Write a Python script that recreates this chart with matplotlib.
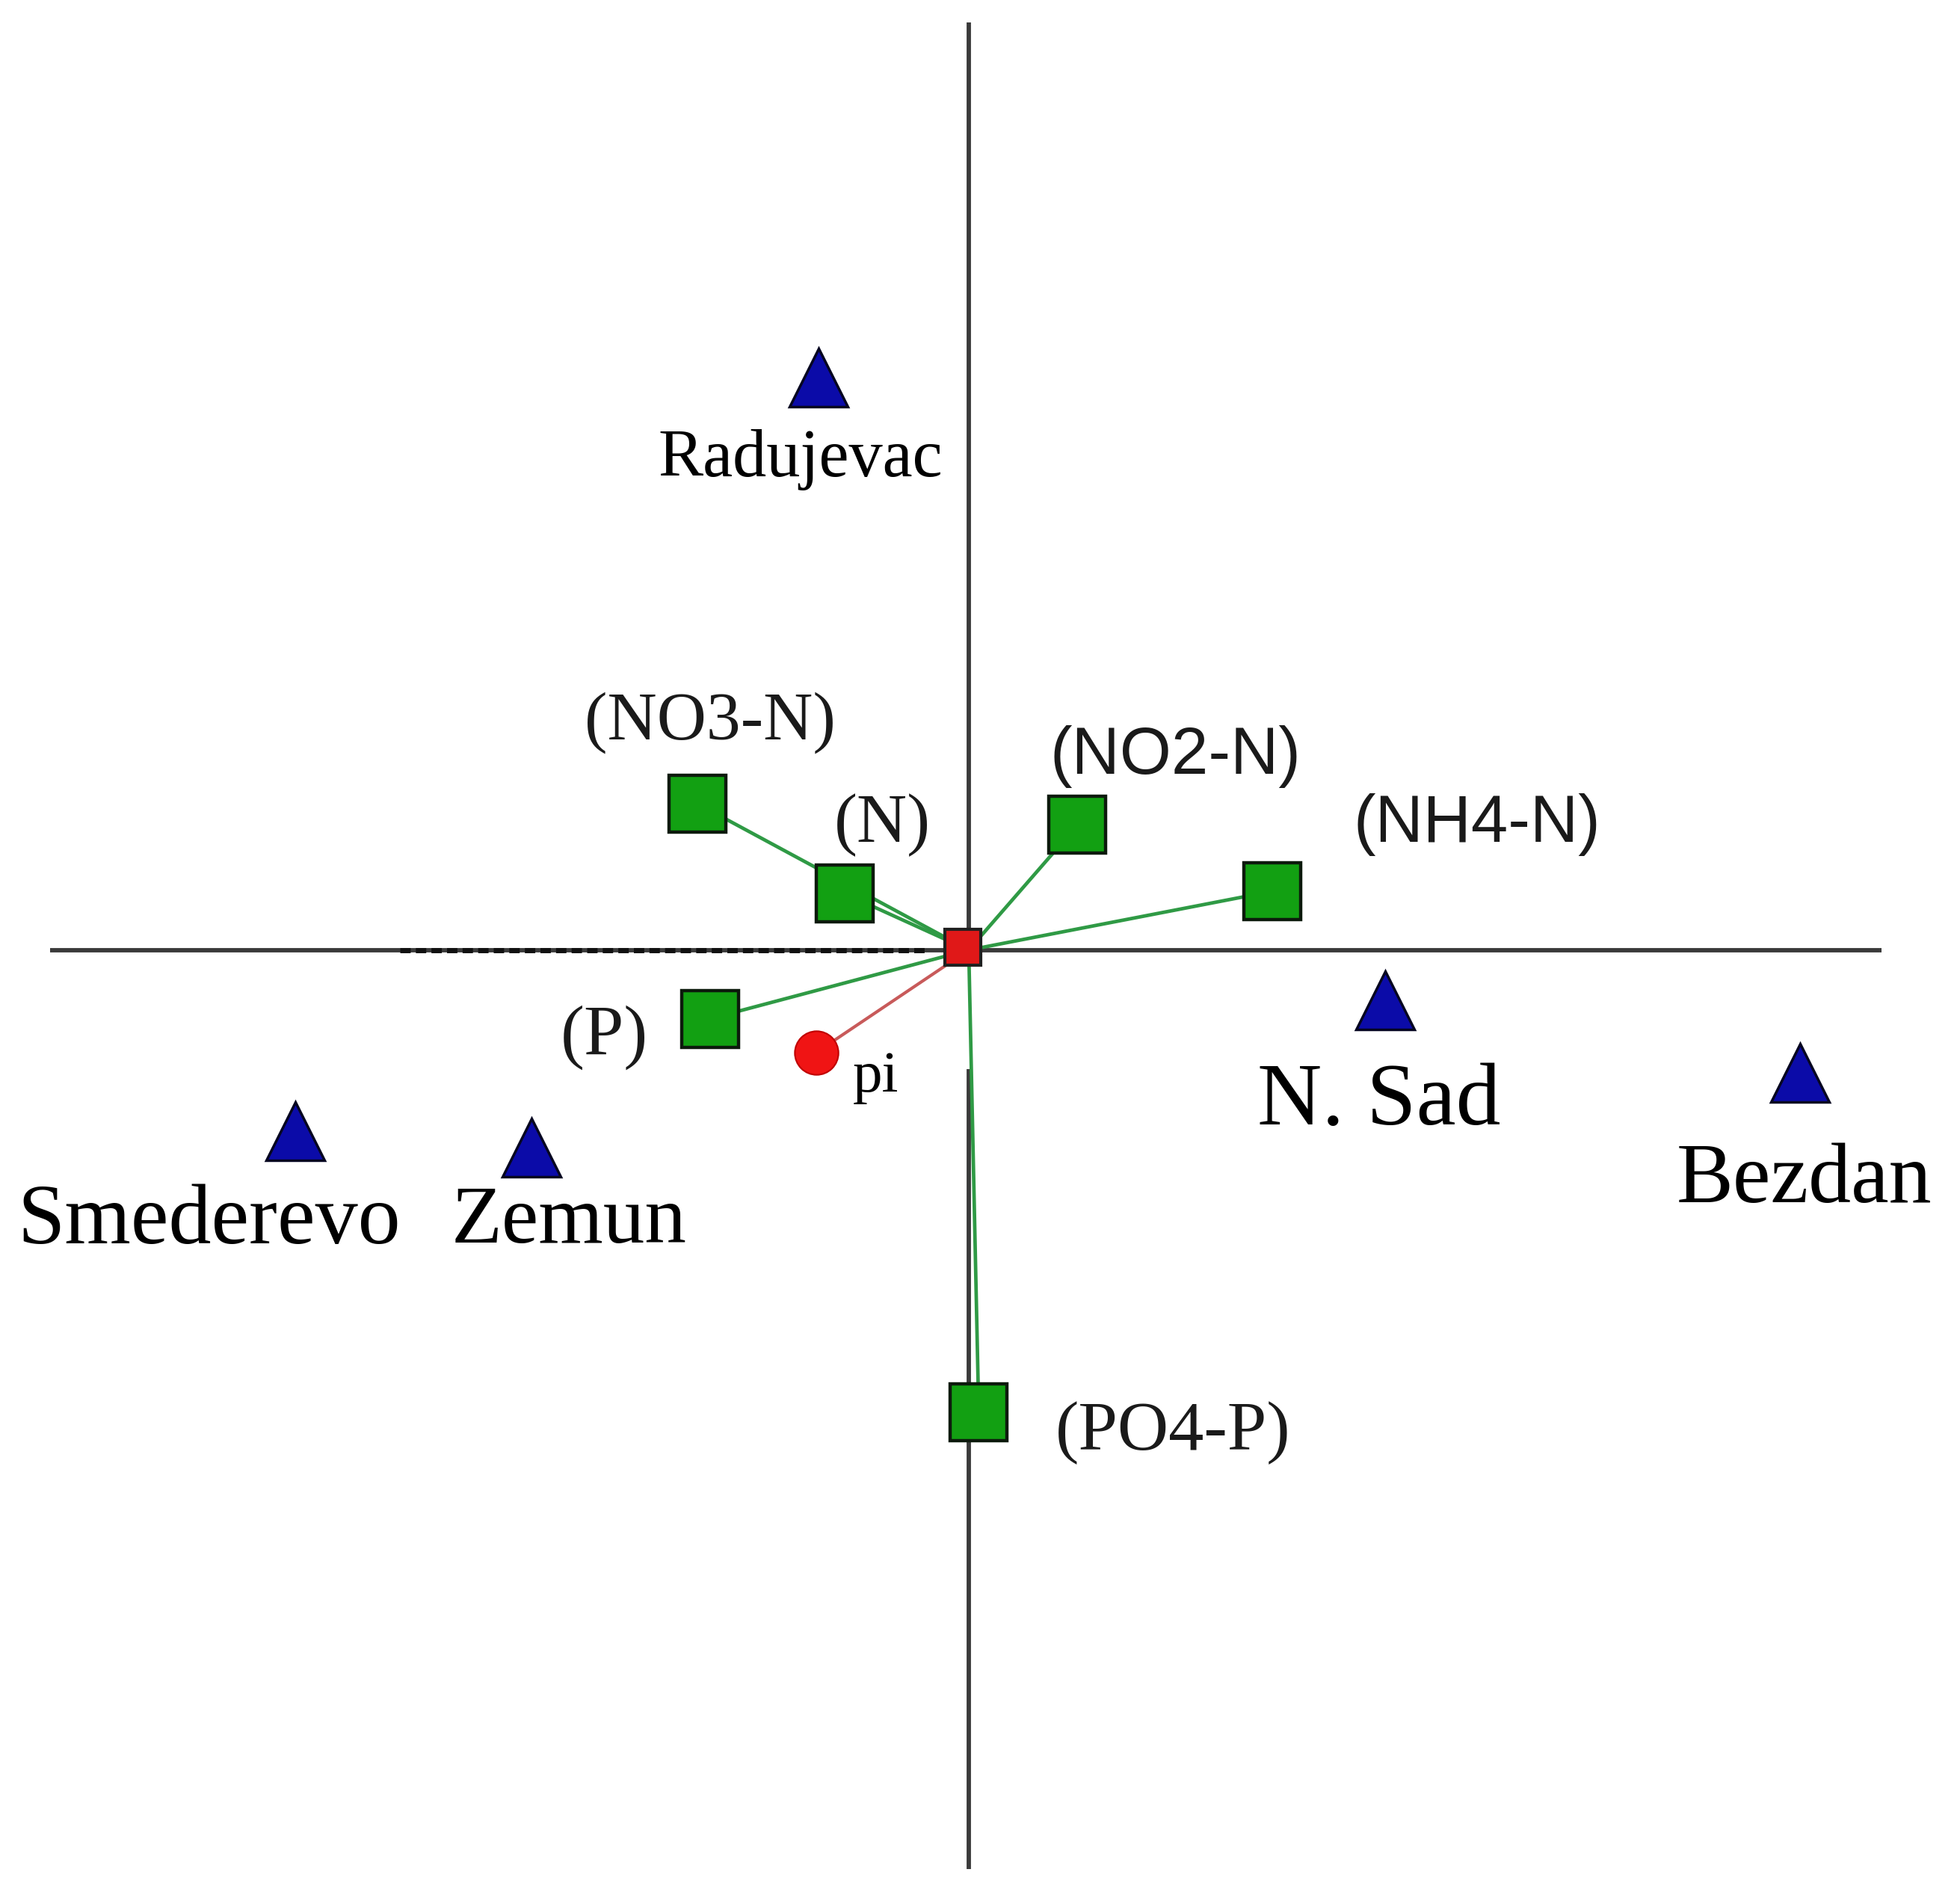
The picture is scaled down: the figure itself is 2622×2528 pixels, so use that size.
import matplotlib
matplotlib.use("Agg")
import matplotlib.pyplot as plt

# ---- data (biplot scores, arbitrary units) ----
site_names = ["Radujevac", "N. Sad", "Bezdan", "Smederevo", "Zemun"]
site_x = [-1.20, 3.33, 6.65, -5.39, -3.50]
site_y = [4.58, -0.40, -0.98, -1.45, -1.58]

var_names = ["(NO3-N)", "(N)", "(NO2-N)", "(NH4-N)", "(P)", "(PO4-P)"]
var_x = [-2.17, -0.99, 0.87, 2.43, -2.07, 0.08]
var_y = [1.17, 0.45, 1.00, 0.47, -0.55, -3.70]

pi_name = "pi"
pi_x = [-1.22]
pi_y = [-0.82]

# label offsets (points) and fonts
site_off = [(-18, -79), (-6, -99), (4, -105), (-83, -88), (36, -72)]
site_fs = [65, 86, 82, 82, 80]
var_off = [(12, 78), (36, 66), (94, 66), (197, 64), (-102, -18), (187, -20)]
var_fs = [66, 67, 64, 64, 69, 68]
var_family = ["Liberation Serif", "Liberation Serif", "Liberation Sans",
              "Liberation Sans", "Liberation Serif", "Liberation Serif"]

fig = plt.figure(figsize=(26.22, 25.28), dpi=100)
ax = fig.add_axes([0, 0, 1, 1])
ax.set_xlim(-7.75, 7.93)
ax.set_ylim(-7.52, 7.60)
ax.axis("off")

axis_col = "#3a3a3a"
# axes lines
ax.plot([-7.35, 7.30], [0, 0], color=axis_col, lw=4.2, zorder=1, solid_capstyle="butt")
ax.plot([0, 0], [7.42, 0], color=axis_col, lw=4.2, zorder=1, solid_capstyle="butt")
ax.plot([0, 0], [-0.95, -7.35], color=axis_col, lw=4.2, zorder=1, solid_capstyle="butt")
ax.plot([-4.55, -0.35], [0, 0], color="#111111", lw=5.0, ls=(0, (2, 1)), zorder=1)

# vectors
line_green = "#2f9a45"
for x, y in zip(var_x, var_y):
    ax.plot([0, x], [0, y], color=line_green, lw=3.4, zorder=2)
ax.plot([0, pi_x[0]], [0, pi_y[0]], color="#c85a5a", lw=3.0, zorder=2)

# markers
ax.plot(var_x, var_y, ls="none", marker="s", ms=55, mfc="#12a012", mec="#0c1a0c",
        mew=3.2, zorder=4)
ax.plot(site_x, site_y, ls="none", marker="^", ms=56, mfc="#0b0ba8", mec="#050520",
        mew=2.5, zorder=4)
ax.plot(pi_x, pi_y, ls="none", marker="o", ms=42, mfc="#f01414", mec="#c00000",
        mew=1.5, zorder=4)
ax.plot([-0.05], [0.02], ls="none", marker="s", ms=34, mfc="#e01818", mec="#202020",
        mew=3.0, zorder=5)

# labels
for name, x, y, off, fs in zip(site_names, site_x, site_y, site_off, site_fs):
    ax.annotate(name, (x, y), xytext=off, textcoords="offset points",
                ha="center", va="center", fontsize=fs,
                family="Liberation Serif", color="black", zorder=6)
for name, x, y, off, fs, fam in zip(var_names, var_x, var_y, var_off, var_fs, var_family):
    ax.annotate(name, (x, y), xytext=off, textcoords="offset points",
                ha="center", va="center", fontsize=fs, family=fam,
                color="#1a1a1a", zorder=6)
ax.annotate(pi_name, (pi_x[0], pi_y[0]), xytext=(57, -24), textcoords="offset points",
            ha="center", va="center", fontsize=57, family="Liberation Serif",
            color="black", zorder=6)

fig.savefig("out.png", dpi=100, facecolor="white")
